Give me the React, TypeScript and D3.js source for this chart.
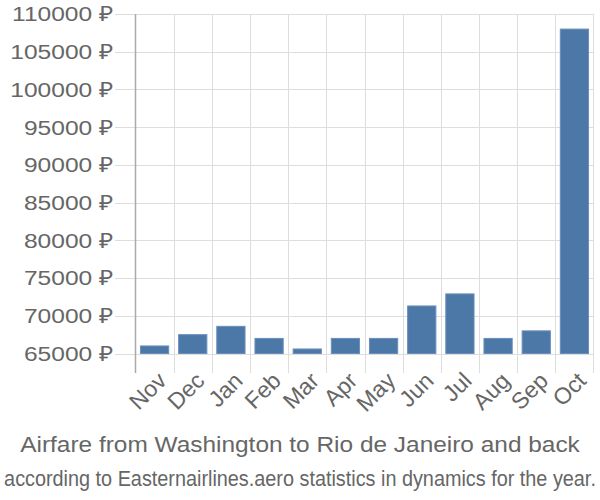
import React, { useLayoutEffect, useRef, useState } from "react";
import * as d3 from "d3";

const months = ["Nov", "Dec", "Jan", "Feb", "Mar", "Apr", "May", "Jun", "Jul", "Aug", "Sep", "Oct"];
const prices = [66000, 67500, 68600, 67000, 65600, 67000, 67000, 71300, 72900, 67000, 68000, 108000];
const yTicks = [65000, 70000, 75000, 80000, 85000, 90000, 95000, 100000, 105000, 110000];
const title = "Airfare from Washington to Rio de Janeiro and back";
const subtitle = "according to Easternairlines.aero statistics in dynamics for the year.";

function FitText({ text, width, y, size }: { text: string; width: number; y: number; size: number }) {
  const ref = useRef<SVGTextElement>(null);
  const [k, setK] = useState(1);
  useLayoutEffect(() => {
    if (ref.current) {
      const w = ref.current.getComputedTextLength();
      if (w > 0) setK(width / w);
    }
  }, [text, width]);
  return (
    <text ref={ref} transform={`translate(300,${y}) scale(${k},1)`} textAnchor="middle" fontSize={size} fill="#666">{text}</text>
  );
}

export default function App() {
  const W = 600, H = 500;
  const left = 135.5, right = 593.5, top = 14, base = 353.5, bottom = 373;
  const x = d3.scaleBand<string>().domain(months).range([left, right]).paddingInner(0.26).paddingOuter(0.13);
  const xg = d3.scaleBand<string>().domain(months).range([left, right]);
  const y = d3.scaleLinear().domain([65000, 110000]).range([base, top]);
  const font = "'Liberation Sans', Arial, sans-serif";
  const sx = 1.17;
  return (
    <svg width={W} height={H} style={{ position: "absolute", left: 0, top: 0 }} fontFamily={font}>
      {yTicks.map((t) => (
        <g key={t}>
          <line x1={115} x2={right} y1={Math.round(y(t)) + 0.5} y2={Math.round(y(t)) + 0.5} stroke="#dddddd" strokeWidth={1} />
          <text transform={`translate(113,${y(t)}) scale(${sx},1)`} dy="0.35em" textAnchor="end" fontSize={21} fill="#666">{`${t} ₽`}</text>
        </g>
      ))}
      {months.map((m) => (
        <line key={m} x1={Math.round(xg(m)! + xg.bandwidth()) + 0.5} x2={Math.round(xg(m)! + xg.bandwidth()) + 0.5} y1={top} y2={bottom} stroke="#dddddd" />
      ))}
      <line x1={left} x2={left} y1={top} y2={bottom} stroke="#aaaaaa" strokeWidth={1.5} />
      {months.map((m, i) => (
        <rect key={m} x={x(m)} y={y(prices[i])} width={x.bandwidth()} height={base - y(prices[i])} fill="#4c78a8" stroke="#6a8fba" strokeWidth={1} />
      ))}
      {months.map((m) => {
        const cx = xg(m)! + xg.bandwidth() / 2 + 4;
        return (
          <text key={m} transform={`translate(${cx},${bottom}) rotate(-45)`} textAnchor="end" dy={13} fontSize={23} fill="#666">{m}</text>
        );
      })}
      <FitText text={title} width={560} y={452} size={22} />
      <FitText text={subtitle} width={592} y={486} size={22} />
    </svg>
  );
}
